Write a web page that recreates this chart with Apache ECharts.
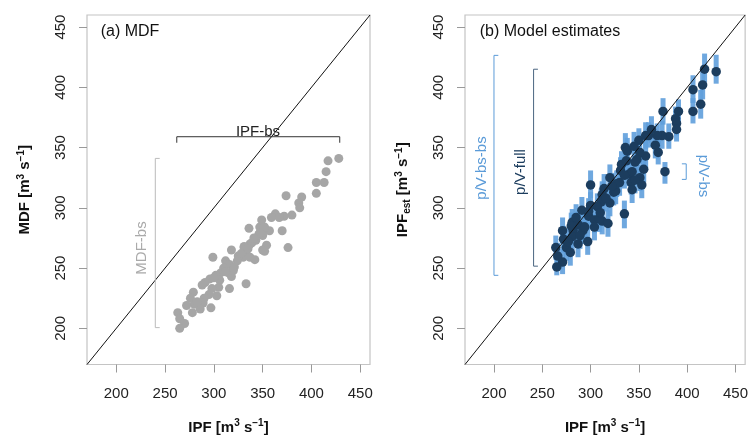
<!DOCTYPE html>
<html>
<head>
<meta charset="utf-8">
<title>MDF / IPF</title>
<script src="https://cdn.jsdelivr.net/npm/echarts@6/dist/echarts.min.js"></script>
<style>
  html, body { margin: 0; padding: 0; background: #fff; }
  #main { width: 751px; height: 440px; }
</style>
</head>
<body>
<div id="main"></div>
<script>
"use strict";

// (a) MDF 与 IPF
var mdfIpf = [428,417,415,405,413,405,374,390,387,388,380,372,363,367,359,349,336,347,357,350,
              370,346,350,343,337,354,331,350,376,318,352,347,339,331,333,352,337,299,330,312,
              324,342,316,321,307,315,318,302,296,291,288,306,333,305,316,303,279,295,290,276,
              289,297,280,272,286,278,263,265,270,265,325,310,300,328,341,283,320,335,312,298];
var mdfVal = [341,339,330,321,321,312,310,309,304,300,294,293,295,292,292,290,283,284,281,280,
              281,278,277,273,270,269,267,265,267,265,284,279,271,268,264,264,259,259,259,256,
              256,257,253,251,246,246,243,244,241,238,236,240,237,234,233,227,230,228,225,225,
              221,217,220,219,216,213,213,208,204,200,260,250,242,262,275,222,248,266,247,233];

// (b) 模型估计
var estIpf = [430,418,416,406,414,406,375,391,388,389,389,381,374,369,360,363,370,350,336,338,
              357,351,348,355,377,331,340,351,300,320,314,324,345,346,343,342,353,343,330,335,
              326,312,320,311,307,291,335,298,281,304,312,293,287,318,282,292,298,309,271,281,
              289,297,272,287,275,264,279,266,271,265,304,294,280,357,332,327,316,300,285,277,
              310,322,346,367,337];
var estVal = [413,415,402,398,386,380,380,380,374,370,365,359,360,360,360,365,346,356,350,347,
              343,346,340,332,330,331,328,325,319,325,316,313,351,338,330,321,319,315,321,327,
              314,311,304,305,301,298,295,293,288,290,289,284,286,287,281,281,297,291,281,276,
              277,272,274,270,267,267,263,260,255,251,284,284,285,360,336,320,308,302,292,272,
              296,318,323,352,339];
var bsHi = [427,428,414,410,398,391,391,390,384,382,377,370,372,370,371,376,357,366,362,358,
            355,358,351,343,338,342,340,336,331,336,328,325,363,350,341,333,330,326,332,338,
            326,322,315,316,312,309,306,304,299,301,300,295,297,298,292,292,308,302,292,287,
            288,283,285,281,278,277,274,271,266,262,295,295,296,371,347,331,319,313,303,283,
            307,329,334,363,350];
var bsLo = [403,404,390,387,374,370,369,370,362,360,355,349,349,350,350,354,336,344,339,337,
            333,336,329,321,320,320,318,314,308,315,305,302,341,328,319,311,308,304,310,316,
            303,300,293,294,290,287,283,282,277,279,278,273,275,276,270,270,286,280,270,265,
            266,261,263,259,256,257,252,250,245,244,273,273,274,349,325,309,297,291,281,261,
            285,307,312,341,328];

// 刻度
var tickVals = [200, 250, 300, 350, 400, 450];
var axisRange = [170, 460];

// 括号注释的范围
var ipfBsRange = [262, 429];   // 横向, y = 359
var mdfBsRange = [200.6, 341]; // 纵向, x = 240
var pvBsBsRange = [244, 426.5];// 纵向, x = 200
var pvFullRange = [251.6, 415];// 纵向, x = 241
var pvBsRange = [323.6, 336.5];// 纵向, x = 399

var FONT = '"Liberation Sans", Arial, sans-serif';
var LIGHT = '#5b9bd8';
var DARK = '#1c3d5e';

function zip(a, b) {
    var out = [];
    for (var i = 0; i < a.length; i++) {
        out.push([a[i], b[i]]);
    }
    return out;
}

function makeX(idx) {
    return {
        type: 'value', gridIndex: idx, min: axisRange[0], max: axisRange[1],
        splitLine: {show: false},
        axisLine: {show: false},
        axisTick: {show: true, customValues: tickVals, length: 8, lineStyle: {color: '#999'}},
        axisLabel: {customValues: tickVals, fontSize: 15, fontFamily: FONT, color: '#222', margin: 22},
        name: '{b|IPF [m}{sup|3}{b| s}{sup|−1}{b|]}',
        nameLocation: 'middle', nameGap: 54,
        nameTextStyle: {
            rich: {
                b: {fontSize: 15, fontWeight: 'bold', fontFamily: FONT, color: '#111'},
                sup: {fontSize: 10, fontWeight: 'bold', fontFamily: FONT, color: '#111', verticalAlign: 'top', padding: [0, 0, 8, 0]}
            }
        }
    };
}

function makeY(idx, name) {
    return {
        type: 'value', gridIndex: idx, min: axisRange[0], max: axisRange[1],
        splitLine: {show: false},
        axisLine: {show: false},
        axisTick: {show: true, customValues: tickVals, length: 8, lineStyle: {color: '#999'}},
        axisLabel: {customValues: tickVals, rotate: 90, fontSize: 15, fontFamily: FONT, color: '#222', margin: 19},
        name: name,
        nameLocation: 'middle', nameGap: 53, nameRotate: 90,
        nameTextStyle: {
            rich: {
                b: {fontSize: 15, fontWeight: 'bold', fontFamily: FONT, color: '#111'},
                sup: {fontSize: 10, fontWeight: 'bold', fontFamily: FONT, color: '#111', verticalAlign: 'top', padding: [0, 0, 8, 0]},
                sub: {fontSize: 10, fontWeight: 'bold', fontFamily: FONT, color: '#111', verticalAlign: 'bottom', padding: [6, 0, 0, 0]}
            }
        }
    };
}

function lineSeries(idx, data, color) {
    return {
        type: 'line', xAxisIndex: idx, yAxisIndex: idx, data: data,
        symbol: 'none', silent: true, z: 5,
        lineStyle: {color: color, width: 1}
    };
}

// 括号: 纵向, 刻度朝 dir 方向
function vBracket(x, range, dir) {
    return [[x + dir * 4.5, range[0]], [x, range[0]], [x, range[1]], [x + dir * 4.5, range[1]]];
}

function rotText(txt, x, y, color, rot, size) {
    return {
        type: 'text', x: x, y: y, rotation: rot, silent: true,
        style: {text: txt, fill: color, font: (size || 15) + 'px ' + FONT, align: 'center', verticalAlign: 'middle'}
    };
}

var myChart = echarts.init(document.getElementById('main'), null, {renderer: 'canvas'});

var option = {
    animation: false,
    backgroundColor: '#fff',
    grid: [
        {left: 87, top: 15, width: 283, height: 360, show: true, borderColor: '#c4c4c4', borderWidth: 1.2},
        {left: 465, top: 15, width: 283, height: 360, show: true, borderColor: '#c4c4c4', borderWidth: 1.2}
    ],
    xAxis: [makeX(0), makeX(1)],
    yAxis: [
        makeY(0, '{b|MDF [m}{sup|3}{b| s}{sup|−1}{b|]}'),
        makeY(1, '{b|IPF}{sub|est}{b| [m}{sup|3}{b| s}{sup|−1}{b|]}')
    ],
    graphic: [
        rotText('(a) MDF', 130, 32, '#111', 0, 16),
        rotText('IPF-bs', 258, 132, '#222', 0),
        rotText('MDF-bs', 142, 248, '#aaaaaa', Math.PI / 2),
        rotText('(b) Model estimates', 550, 32, '#111', 0, 16),
        rotText('p/V-bs-bs', 482, 168, LIGHT, Math.PI / 2),
        rotText('p/V-full', 521, 172, DARK, Math.PI / 2),
        rotText('p/V-bs', 703, 176, LIGHT, -Math.PI / 2)
    ],
    series: [
        // 1:1 线
        lineSeries(0, [[axisRange[0], axisRange[0]], [axisRange[1], axisRange[1]]], '#111'),
        lineSeries(1, [[axisRange[0], axisRange[0]], [axisRange[1], axisRange[1]]], '#111'),
        // 注释括号
        lineSeries(0, [[ipfBsRange[0], 354], [ipfBsRange[0], 359], [ipfBsRange[1], 359], [ipfBsRange[1], 354]], '#333'),
        lineSeries(0, vBracket(240, mdfBsRange, 1), '#bbbbbb'),
        lineSeries(1, vBracket(200, pvBsBsRange, 1), LIGHT),
        lineSeries(1, vBracket(241, pvFullRange, 1), '#4a6580'),
        lineSeries(1, vBracket(399, pvBsRange, -1), LIGHT),
        {
            type: 'scatter', xAxisIndex: 0, yAxisIndex: 0,
            data: zip(mdfIpf, mdfVal), symbolSize: 9, z: 3,
            itemStyle: {color: '#a6a6a6', opacity: 1}
        },
        {
            // 误差棒
            type: 'custom', xAxisIndex: 1, yAxisIndex: 1, z: 2,
            data: estIpf.map(function(x, i) { return [x, bsLo[i], bsHi[i]]; }),
            renderItem: function(params, api) {
                var p1 = api.coord([api.value(0), api.value(1)]);
                var p2 = api.coord([api.value(0), api.value(2)]);
                return {
                    type: 'line',
                    shape: {x1: p1[0], y1: p1[1], x2: p2[0], y2: p2[1]},
                    style: {stroke: '#5f9fdc', lineWidth: 5, opacity: 0.9}
                };
            }
        },
        {
            type: 'scatter', xAxisIndex: 1, yAxisIndex: 1,
            data: zip(estIpf, estVal), symbolSize: 9.5, z: 4,
            itemStyle: {color: DARK, opacity: 1}
        }
    ]
};
myChart.setOption(option);
</script>
</body>
</html>
